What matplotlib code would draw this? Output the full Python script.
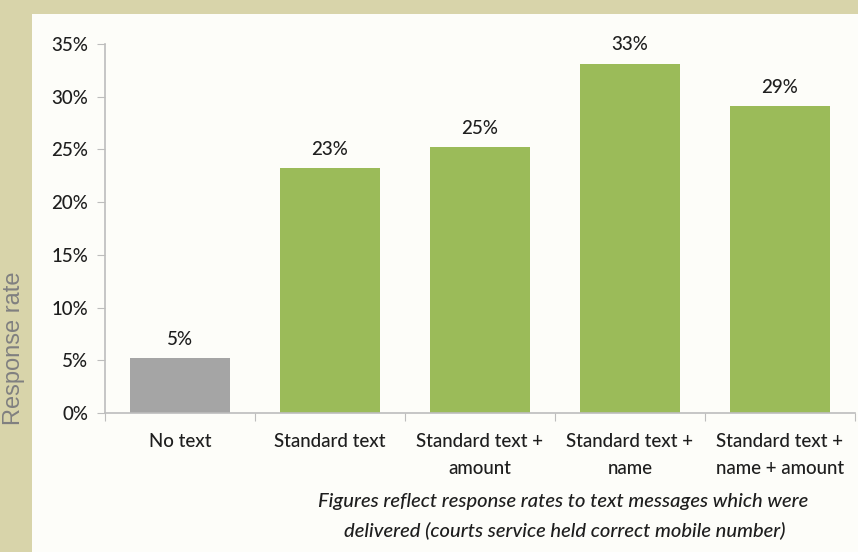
import numpy as np
import matplotlib.pyplot as plt
from matplotlib.patches import Rectangle

categories = ["No text", "Standard text", "Standard text +\namount",
              "Standard text +\nname", "Standard text +\nname + amount"]
rates = [5.2, 23.2, 25.2, 33.1, 29.1]
labels = ["5%", "23%", "25%", "33%", "29%"]
yticks = [0, 5, 10, 15, 20, 25, 30, 35]

green = "#9BBB59"
grey = "#A5A5A5"
colors = [grey, green, green, green, green]
axis_col = "#BDBDBD"
font = ["Lato", "DejaVu Sans"]
txt = "#1E1E1E"

fig = plt.figure(figsize=(8.58, 5.52), dpi=100, facecolor="#D8D4AA")
# white panel
fig.patches.append(Rectangle((32 / 858, 0), 1 - 32 / 858, 538 / 552,
                             transform=fig.transFigure, facecolor="#FDFDF9",
                             edgecolor="none", zorder=-10))

ax = fig.add_axes([105 / 858, 139 / 552, 750 / 858, 369 / 552])
ax.set_facecolor("none")
x = np.arange(len(categories))
ax.bar(x, rates, width=0.667, color=colors, zorder=2)
for xi, r, lab in zip(x, rates, labels):
    ax.text(xi, r + 1.0, lab, ha="center", va="bottom", fontsize=13.5,
            family=font, color=txt, fontweight="medium")

ax.set_xlim(-0.5, 4.5)
ax.set_ylim(0, 35)
ax.set_yticks(yticks)
ax.set_yticklabels([f"{t}%" for t in yticks], family=font, fontsize=13.5,
                   color=txt, fontweight="medium")
ax.set_xticks(np.arange(-0.5, 5, 1))
ax.set_xticklabels([])
ax.tick_params(axis="y", length=6, color=axis_col, pad=6)
ax.tick_params(axis="x", length=6, color=axis_col)
for xi, c in zip(x, categories):
    ax.text(xi, -1.9, c, ha="center", va="top", fontsize=13.5, family=font,
            color=txt, linespacing=1.7, fontweight="medium")
for s in ["top", "right"]:
    ax.spines[s].set_visible(False)
for s in ["left", "bottom"]:
    ax.spines[s].set_color(axis_col)
    ax.spines[s].set_linewidth(1.2)

fig.text(14 / 858, 1 - 348 / 552, "Response rate", rotation=90, ha="center",
         va="center", fontsize=17, family="Liberation Sans", color="#808080")
fig.text(563 / 858, 1 - 501 / 552,
         "Figures reflect response rates to text messages which were",
         ha="center", va="center", fontsize=14.5, family=font, style="italic",
         color=txt, fontweight="medium")
fig.text(565 / 858, 1 - 530 / 552,
         "delivered (courts service held correct mobile number)",
         ha="center", va="center", fontsize=14.5, family=font, style="italic",
         color=txt, fontweight="medium")

fig.savefig("out.png", dpi=100, facecolor=fig.get_facecolor())
